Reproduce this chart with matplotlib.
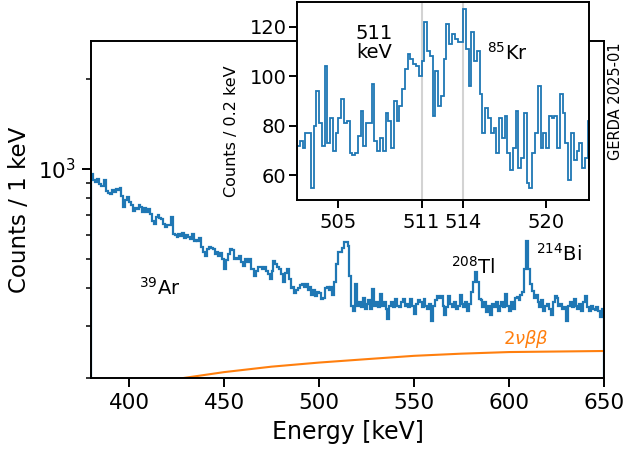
import numpy as np
import matplotlib
matplotlib.use("Agg")
import matplotlib.pyplot as plt
from matplotlib.ticker import NullFormatter

# ---------------- data ----------------
# main spectrum: counts per 1 keV, bins starting at 380 keV
main_start = 380
main_counts = [
    962, 920, 905, 926, 891, 877, 880, 919, 845, 830,
    826, 850, 840, 858, 850, 862, 813, 747, 790, 806,
    776, 760, 724, 740, 735, 760, 747, 720, 740, 719,
    735, 708, 670, 655, 690, 700, 685, 680, 655, 641,
    650, 648, 692, 607, 600, 593, 605, 598, 610, 590,
    600, 595, 585, 607, 575, 580, 575, 590, 549, 530,
    513, 540, 549, 545, 541, 520, 530, 513, 525, 501,
    464, 495, 520, 541, 535, 500, 505, 500, 513, 490,
    475, 500, 490, 500, 465, 464, 440, 455, 470, 471,
    465, 471, 455, 446, 430, 455, 494, 480, 470, 464,
    445, 420, 450, 464, 430, 400, 405, 385, 395, 400,
    410, 414, 405, 414, 395, 405, 380, 395, 378, 390,
    385, 369, 372, 400, 405, 395, 405, 380, 420, 482,
    530, 530, 545, 571, 571, 554, 440, 349, 336, 414,
    350, 360, 345, 370, 340, 355, 365, 340, 398, 350,
    360, 345, 384, 350, 360, 340, 316, 350, 360, 345,
    369, 350, 345, 360, 369, 350, 355, 345, 369, 350,
    329, 355, 365, 360, 345, 369, 350, 340, 355, 310,
    350, 365, 377, 370, 377, 350, 326, 345, 377, 355,
    345, 360, 340, 350, 380, 355, 345, 360, 335, 355,
    389, 420, 454, 418, 369, 365, 345, 360, 333, 350,
    326, 355, 345, 360, 335, 350, 360, 345, 384, 350,
    335, 360, 340, 370, 375, 365, 380, 390, 464, 575,
    464, 413, 393, 370, 380, 360, 345, 365, 335, 350,
    355, 340, 326, 360, 377, 370, 350, 355, 340, 345,
    310, 350, 360, 345, 369, 350, 340, 355, 335, 360,
    377, 345, 335, 350, 340, 338, 345, 335, 321, 340,
]

# 2nu-beta-beta expectation (counts / 1 keV)
bb_energy = [380, 400, 427, 450, 475, 500, 525, 550, 575, 600, 625, 650]
bb_counts = [178, 188, 200, 210, 219, 226, 232, 238, 242, 245, 246, 247]

# inset: counts per 0.2 keV, bins starting at 502 keV
inset_start = 502.0
inset_counts = [
    72, 74, 71, 77, 77, 55, 80, 94, 81, 72,
    104, 73, 83, 70, 77, 83, 91, 81, 82, 69,
    68, 69, 76, 86, 72, 81, 81, 97, 74, 70,
    75, 70, 85, 82, 71, 90, 82, 88, 95, 103,
    109, 107, 105, 104, 100, 106, 122, 110, 108, 84,
    102, 88, 92, 107, 121, 113, 117, 115, 114, 114,
    127, 111, 96, 118, 106, 110, 93, 77, 87, 83,
    77, 79, 69, 83, 75, 84, 69, 62, 71, 86,
    63, 67, 85, 57, 55, 69, 77, 96, 71, 77,
    71, 84, 83, 84, 71, 93, 85, 73, 58, 77,
    66, 70, 73, 63, 67, 82,
]
inset_lines = [511, 514]
inset_xticks = [505, 511, 514, 520]

# ---------------- figure ----------------
plt.rcParams['font.family'] = ['DejaVu Sans']
plt.rcParams['axes.linewidth'] = 1.4
fig = plt.figure(figsize=(6.26, 4.51), dpi=100)

ax = fig.add_axes([0.1454, 0.1608, 0.8195, 0.7482])
edges = main_start + np.arange(len(main_counts) + 1)
ax.stairs(main_counts, edges, color='#1f77b4', lw=1.6)
ax.plot(bb_energy, bb_counts, color='#ff7f0e', lw=1.5)
ax.set_yscale('log')
ax.set_xlim(380, 650)
ax.set_ylim(200, 2670)
ax.set_xticks([400, 450, 500, 550, 600, 650])
ax.yaxis.set_minor_formatter(NullFormatter())
ax.tick_params(which='major', labelsize=15.5, length=6.3, width=1.4, pad=4.5)
ax.tick_params(which='minor', length=3.6, width=1.1)
ax.set_xlabel('Energy [keV]', fontsize=17, labelpad=5)
ax.set_ylabel('Counts / 1 keV', fontsize=16.5, labelpad=5)

ax.text(416, 400, r'$^{39}$Ar', fontsize=14, ha='center', va='center')
ax.text(581, 471, r'$^{208}$Tl', fontsize=14, ha='center', va='center')
ax.text(626, 520, r'$^{214}$Bi', fontsize=14, ha='center', va='center')
ax.text(609, 271, r'$2\nu\beta\beta$', fontsize=13, color='#ff7f0e',
        ha='center', va='center')
fig.text(0.984, 0.776, 'GERDA 2025-01', rotation=90, fontsize=10.5,
         ha='center', va='center')

# inset
axi = fig.add_axes([0.4744, 0.5565, 0.4665, 0.4391])
iedges = inset_start + 0.2 * np.arange(len(inset_counts) + 1)
for xl in inset_lines:
    axi.axvline(xl, color='lightgray', lw=1.5, zorder=0)
axi.stairs(inset_counts, iedges, color='#1f77b4', lw=1.3)
axi.set_xlim(502.0, 523.1)
axi.set_ylim(50, 130)
axi.set_xticks(inset_xticks)
axi.set_yticks([60, 80, 100, 120])
axi.tick_params(labelsize=14, length=6, width=1.4)
axi.tick_params(axis='y', pad=1.5)
axi.set_ylabel('Counts / 0.2 keV', fontsize=11.5)
axi.yaxis.set_label_coords(-0.2, 0.35)
axi.text(507.6, 121, '511\nkeV', fontsize=14, ha='center', va='top',
         linespacing=1.0)
axi.text(517.2, 109.5, r'$^{85}$Kr', fontsize=14, ha='center', va='center')

fig.savefig('out.png', dpi=100)
